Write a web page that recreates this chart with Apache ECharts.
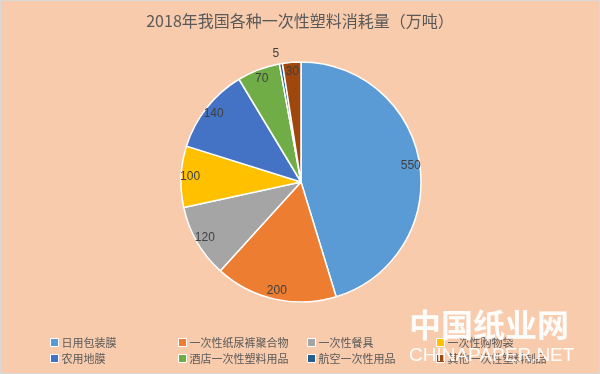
<!DOCTYPE html>
<html>
<head>
<meta charset="utf-8">
<script src="https://cdn.jsdelivr.net/npm/echarts@6/dist/echarts.min.js"></script>
<style>
html,body{margin:0;padding:0;background:#F8CBAD;}
#c{width:598px;height:372px;border:1px solid #D9D9D9;}
</style>
</head>
<body>
<div id="c"></div>
<script>
var titleText = '2018年我国各种一次性塑料消耗量（万吨）';
var categories = ['日用包装膜','一次性纸尿裤聚合物','一次性餐具','一次性购物袋','农用地膜','酒店一次性塑料用品','航空一次性用品','其他一次性塑料制品'];
var values = [550, 200, 120, 100, 140, 70, 5, 30];
var colors = ['#5B9BD5','#ED7D31','#A5A5A5','#FFC000','#4472C4','#70AD47','#255E91','#9E480E'];

var legendPos = [[44,331],[172,331],[301,331],[430,331],[44,347],[172,347],[301,347],[430,347]];
var legends = categories.map(function(n,i){
  return {
    data:[n], left:legendPos[i][0], top:legendPos[i][1],
    itemWidth:8, itemHeight:8, itemGap:0, icon:'rect',
    itemStyle:{borderColor:'#fff',borderWidth:1},
    textStyle:{fontFamily:'Noto Sans CJK SC',fontSize:11,color:'#595959',padding:[0,0,0,-2]},
    selectedMode:false
  };
});

var mainData = categories.map(function(n,i){ return {name:n, value:values[i], itemStyle:{color:colors[i]}}; });
var labelData = categories.map(function(n,i){
  var d = {name:n, value:values[i]};
  if (values[i] < 10) {
    d.label = {position:'outside', distanceToLabelLine:0};
    d.labelLine = {show:false, length:10, length2:0};
  }
  return d;
});

var chart = echarts.init(document.getElementById('c'), null, {renderer:'canvas'});
chart.setOption({
  backgroundColor:'#F8CBAD',
  animation:false,
  title:{text:titleText, left:'center', top:7,
    textStyle:{fontFamily:'Noto Sans CJK SC',fontSize:16,fontWeight:'normal',color:'#595959'}},
  legend:legends,
  series:[
    {type:'pie', center:[300,181], radius:[0,120], startAngle:90, clockwise:true,
     data:mainData, label:{show:false}, labelLine:{show:false},
     itemStyle:{borderColor:'#fff',borderWidth:1.5}, silent:true},
    {type:'pie', center:[300,181], radius:[96,120], startAngle:90, clockwise:true,
     data:labelData, silent:true, legendHoverLink:false,
     itemStyle:{color:'rgba(0,0,0,0)',borderWidth:0},
     label:{show:true, position:'inside', formatter:'{c}', fontFamily:'Liberation Sans', fontSize:12, color:'#404040'},
     labelLine:{show:false}}
  ],
  graphic:[
    {type:'text', left:408, top:308, z:100, style:{text:'中国纸业网', fill:'rgba(255,255,255,0.95)', font:'bold 32px "Noto Sans CJK SC"'}},
    {type:'text', left:408, top:345, z:100, style:{text:'CHINAPAPER.NET', fill:'rgba(255,255,255,0.95)', font:'19px "Liberation Sans"'}}
  ]
});
</script>
</body>
</html>
